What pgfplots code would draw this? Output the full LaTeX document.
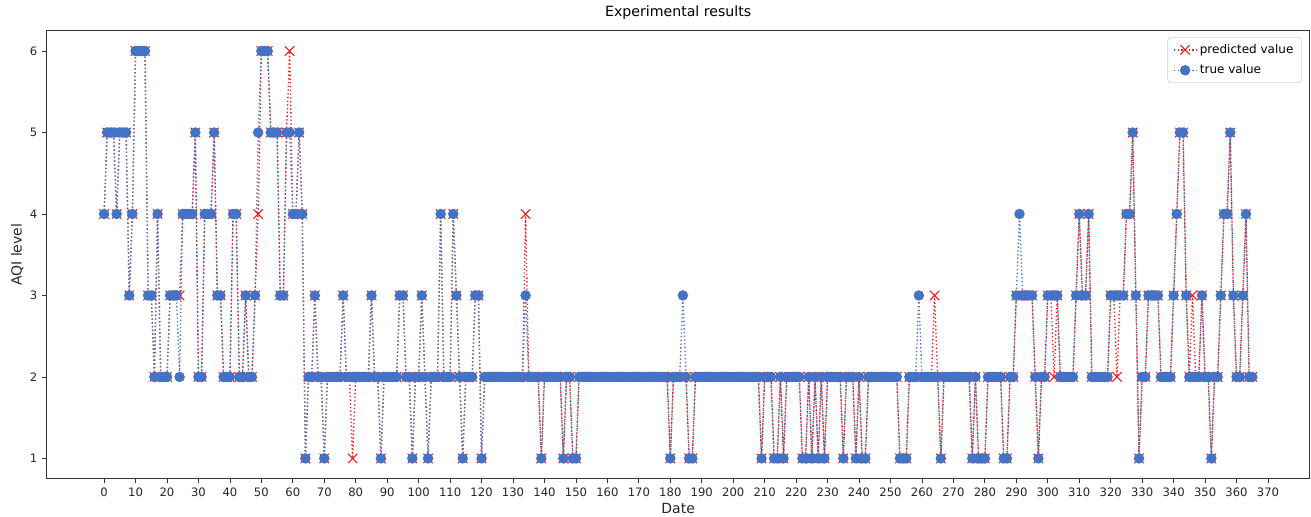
\documentclass[border=0pt]{standalone}
\usepackage{pgfplots}
\usepackage{pgfplotstable}
\pgfplotsset{compat=1.18}
\usepackage{fontspec}
\setmainfont{DejaVu Sans}
\definecolor{tblue}{RGB}{68,114,196}
\definecolor{pred}{RGB}{255,20,20}
\pgfplotstableread[row sep=\\]{
x t p\\
0 4 4\\1 5 5\\2 5 5\\3 5 5\\4 4 4\\5 5 5\\6 5 5\\7 5 5\\8 3 3\\9 4 4\\
10 6 6\\11 6 6\\12 6 6\\13 6 6\\14 3 3\\15 3 3\\16 2 2\\17 4 4\\18 2 2\\19 2 2\\
20 2 2\\21 3 3\\22 3 3\\23 3 3\\24 2 3\\25 4 4\\26 4 4\\27 4 4\\28 4 4\\29 5 5\\
30 2 2\\31 2 2\\32 4 4\\33 4 4\\34 4 4\\35 5 5\\36 3 3\\37 3 3\\38 2 2\\39 2 2\\
40 2 2\\41 4 4\\42 4 4\\43 2 2\\44 2 2\\45 3 3\\46 2 2\\47 2 2\\48 3 3\\49 5 4\\
50 6 6\\51 6 6\\52 6 6\\53 5 5\\54 5 5\\55 5 5\\56 3 3\\57 3 3\\58 5 5\\59 5 6\\
60 4 4\\61 4 4\\62 5 5\\63 4 4\\64 1 1\\65 2 2\\66 2 2\\67 3 3\\68 2 2\\69 2 2\\
70 1 1\\71 2 2\\72 2 2\\73 2 2\\74 2 2\\75 2 2\\76 3 3\\77 2 2\\78 2 2\\79 2 1\\
80 2 2\\81 2 2\\82 2 2\\83 2 2\\84 2 2\\85 3 3\\86 2 2\\87 2 2\\88 1 1\\89 2 2\\
90 2 2\\91 2 2\\92 2 2\\93 2 2\\94 3 3\\95 3 3\\96 2 2\\97 2 2\\98 1 1\\99 2 2\\
100 2 2\\101 3 3\\102 2 2\\103 1 1\\104 2 2\\105 2 2\\106 2 2\\107 4 4\\108 2 2\\109 2 2\\
110 2 2\\111 4 4\\112 3 3\\113 2 2\\114 1 1\\115 2 2\\116 2 2\\117 2 2\\118 3 3\\119 3 3\\
120 1 1\\121 2 2\\122 2 2\\123 2 2\\124 2 2\\125 2 2\\126 2 2\\127 2 2\\128 2 2\\129 2 2\\
130 2 2\\131 2 2\\132 2 2\\133 2 2\\134 3 4\\135 2 2\\136 2 2\\137 2 2\\138 2 2\\139 1 1\\
140 2 2\\141 2 2\\142 2 2\\143 2 2\\144 2 2\\145 2 2\\146 1 1\\147 2 2\\148 2 2\\149 1 1\\
150 1 1\\151 2 2\\152 2 2\\153 2 2\\154 2 2\\155 2 2\\156 2 2\\157 2 2\\158 2 2\\159 2 2\\
160 2 2\\161 2 2\\162 2 2\\163 2 2\\164 2 2\\165 2 2\\166 2 2\\167 2 2\\168 2 2\\169 2 2\\
170 2 2\\171 2 2\\172 2 2\\173 2 2\\174 2 2\\175 2 2\\176 2 2\\177 2 2\\178 2 2\\179 2 2\\
180 1 1\\181 2 2\\182 2 2\\183 2 2\\184 3 2\\185 2 2\\186 1 1\\187 1 1\\188 2 2\\189 2 2\\
190 2 2\\191 2 2\\192 2 2\\193 2 2\\194 2 2\\195 2 2\\196 2 2\\197 2 2\\198 2 2\\199 2 2\\
200 2 2\\201 2 2\\202 2 2\\203 2 2\\204 2 2\\205 2 2\\206 2 2\\207 2 2\\208 2 2\\209 1 1\\
210 2 2\\211 2 2\\212 2 2\\213 1 1\\214 1 1\\215 2 2\\216 1 1\\217 2 2\\218 2 2\\219 2 2\\
220 2 2\\221 2 2\\222 1 1\\223 1 1\\224 2 2\\225 1 1\\226 2 2\\227 1 1\\228 2 2\\229 1 1\\
230 2 2\\231 2 2\\232 2 2\\233 2 2\\234 2 2\\235 1 1\\236 2 2\\237 2 2\\238 2 2\\239 1 1\\
240 2 2\\241 1 1\\242 1 1\\243 2 2\\244 2 2\\245 2 2\\246 2 2\\247 2 2\\248 2 2\\249 2 2\\
250 2 2\\251 2 2\\252 2 2\\253 1 1\\254 1 1\\255 1 1\\256 2 2\\257 2 2\\258 2 2\\259 3 2\\
260 2 2\\261 2 2\\262 2 2\\263 2 2\\264 2 3\\265 2 2\\266 1 1\\267 2 2\\268 2 2\\269 2 2\\
270 2 2\\271 2 2\\272 2 2\\273 2 2\\274 2 2\\275 2 2\\276 1 1\\277 2 2\\278 1 1\\279 1 1\\
280 1 1\\281 2 2\\282 2 2\\283 2 2\\284 2 2\\285 2 2\\286 1 1\\287 1 1\\288 2 2\\289 2 2\\
290 3 3\\291 4 3\\292 3 3\\293 3 3\\294 3 3\\295 3 3\\296 2 2\\297 1 1\\298 2 2\\299 2 2\\
300 3 3\\301 3 3\\302 3 2\\303 3 3\\304 2 2\\305 2 2\\306 2 2\\307 2 2\\308 2 2\\309 3 3\\
310 4 4\\311 3 3\\312 3 3\\313 4 4\\314 2 2\\315 2 2\\316 2 2\\317 2 2\\318 2 2\\319 2 2\\
320 3 3\\321 3 3\\322 3 2\\323 3 3\\324 3 3\\325 4 4\\326 4 4\\327 5 5\\328 3 3\\329 1 1\\
330 2 2\\331 2 2\\332 3 3\\333 3 3\\334 3 3\\335 3 3\\336 2 2\\337 2 2\\338 2 2\\339 2 2\\
340 3 3\\341 4 4\\342 5 5\\343 5 5\\344 3 3\\345 2 2\\346 2 3\\347 2 2\\348 2 2\\349 3 3\\
350 2 2\\351 2 2\\352 1 1\\353 2 2\\354 2 2\\355 3 3\\356 4 4\\357 4 4\\358 5 5\\359 3 3\\
360 2 2\\361 2 2\\362 3 3\\363 4 4\\364 2 2\\365 2 2\\
}\data
\begin{document}
\begin{tikzpicture}
\begin{axis}[
  name=ax,
  scale only axis,
  width=947pt, height=336pt,
  xmin=-18.25, xmax=383.25, ymin=0.75, ymax=6.25,
  xtick={0,10,...,370}, ytick={1,2,3,4,5,6},
  tick align=outside, major tick length=3.5pt,
  tick style={black!80, line width=0.6pt},
  axis line style={black!80, line width=0.8pt},
  xtick pos=bottom, ytick pos=left,
  /pgf/number format/assume math mode=true,
  ticklabel style={font=\fontsize{8.7}{10}\selectfont, text=black!85},
  title={Experimental results},
  title style={font=\fontsize{10.6}{12}\selectfont, at={(0.5,1)}, anchor=south, yshift=0pt, inner sep=2pt},
  xlabel={Date}, ylabel={AQI level},
  label style={font=\fontsize{10.5}{12}\selectfont, text=black!85},
  xlabel style={yshift=2pt},
  ylabel style={yshift=-2pt},
  legend style={at={(1,1)}, anchor=north east, xshift=-6pt, yshift=-5pt,
    draw=black!18, rounded corners=2pt, fill=white, font=\fontsize{9}{11}\selectfont,
    inner xsep=4pt, inner ysep=3pt, row sep=3pt},
  legend cell align=left,
]
\addplot[pred, line width=1pt, dash pattern=on 1pt off 1.8pt, mark=x, mark size=5pt,
  mark options={solid, line width=0.8pt, pred}] table[x=x, y=p] {\data};
\addlegendentry{predicted value}
\addplot[tblue, line width=1pt, dash pattern=on 1pt off 1.8pt, mark=*, mark size=3.4pt,
  mark options={solid, fill=tblue, draw=tblue}] table[x=x, y=t] {\data};
\addlegendentry{true value}
\end{axis}
\pgfresetboundingbox
\path ([xshift=-35pt,yshift=-28pt]ax.south west) rectangle ([xshift=1pt,yshift=23pt]ax.north east);
\end{tikzpicture}
\end{document}
